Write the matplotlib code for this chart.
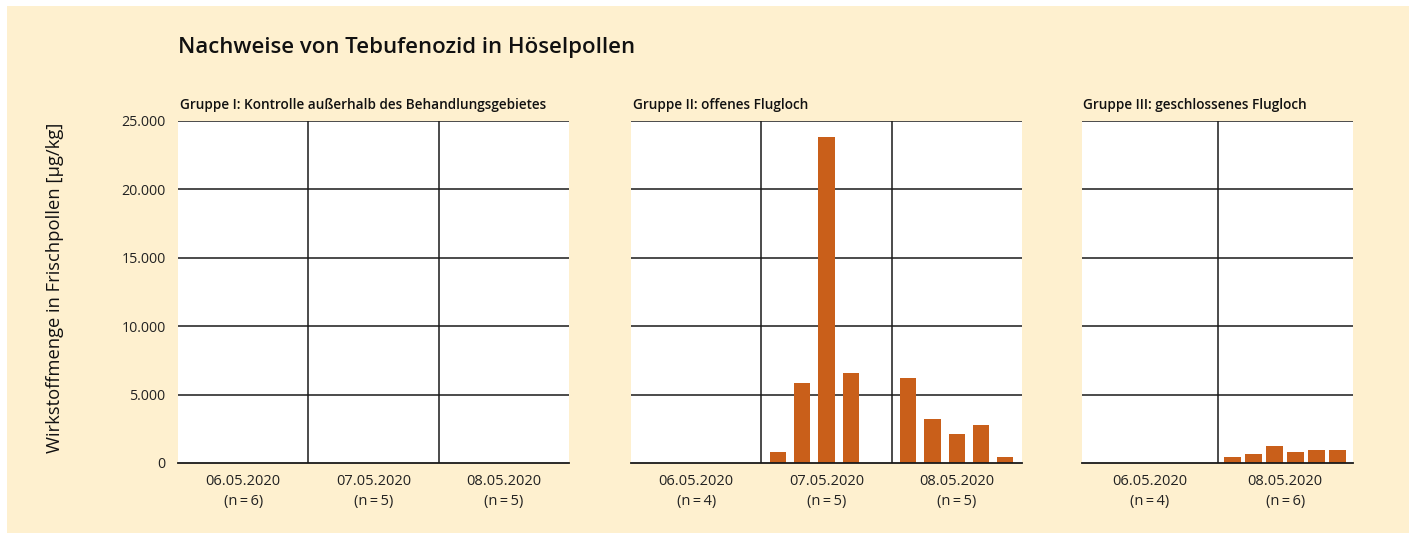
import matplotlib
matplotlib.use("Agg")
import matplotlib.pyplot as plt
from matplotlib.patches import Rectangle

plt.rcParams['font.family'] = ['Open Sans', 'DejaVu Sans']

# data (µg/kg), one list per sampling date, one value per sample
title = "Nachweise von Tebufenozid in Höselpollen"
ylabel = "Wirkstoffmenge in Frischpollen [µg/kg]"

g1_title = "Gruppe I: Kontrolle außerhalb des Behandlungsgebietes"
g1_dates = ["06.05.2020", "07.05.2020", "08.05.2020"]
g1_n = [6, 5, 5]
g1_values = [[0, 0, 0, 0, 0, 0], [0, 0, 0, 0, 0], [0, 0, 0, 0, 0]]

g2_title = "Gruppe II: offenes Flugloch"
g2_dates = ["06.05.2020", "07.05.2020", "08.05.2020"]
g2_n = [4, 5, 5]
g2_values = [[0, 0, 0, 0],
             [800, 5850, 23850, 6600, 0],
             [6250, 3200, 2150, 2800, 420]]

g3_title = "Gruppe III: geschlossenes Flugloch"
g3_dates = ["06.05.2020", "08.05.2020"]
g3_n = [4, 6]
g3_values = [[0, 0, 0, 0],
             [430, 650, 1230, 780, 930, 930]]

yticks = [0, 5000, 10000, 15000, 20000, 25000]

BG = "#FEF0CF"
BAR = "#C95F1A"
W, H = 1409, 533

fig = plt.figure(figsize=(W / 100, H / 100), dpi=100)
fig.patch.set_facecolor("white")
fig.add_artist(Rectangle((7 / W, 0), 1 - 7 / W, 1 - 6 / H, transform=fig.transFigure,
                         facecolor=BG, edgecolor="none", zorder=-10))


def px(x0, x1):
    return x0 / W, (x1 - x0) / W


bottom = 1 - 463 / H
height = 342 / H


def panel(x0, x1, name, dates, ns, values, show_y):
    left, width = px(x0, x1)
    ax = fig.add_axes([left, bottom, width, height])
    ax.set_facecolor("white")
    ng = len(dates)
    ax.set_xlim(0, ng)
    ax.set_ylim(0, 25000)
    for s in ["top", "left", "right"]:
        ax.spines[s].set_visible(False)
    ax.spines["bottom"].set_linewidth(1.3)
    ax.spines["bottom"].set_color("#1a1a1a")
    for y in yticks[1:]:
        ax.axhline(y, color="#1a1a1a", lw=1.1, zorder=1)
    for i in range(1, ng):
        ax.axvline(i, color="#1a1a1a", lw=1.1, zorder=1)
    margin = 0.035
    for i, vals in enumerate(values):
        slot = (1 - 2 * margin) / len(vals)
        xs = [i + margin + (j + 0.5) * slot for j in range(len(vals))]
        ax.bar(xs, vals, width=0.125, color=BAR, zorder=2)
    ax.set_xticks([i + 0.5 for i in range(ng)])
    ax.set_xticklabels([f"{d}\n(n\u2009=\u2009{n})" for d, n in zip(dates, ns)],
                       fontsize=10.5, color="#222222", linespacing=1.4)
    ax.tick_params(axis="x", length=0, pad=8)
    ax.set_yticks(yticks)
    if show_y:
        ax.set_yticklabels([f"{v:,}".replace(",", ".") for v in yticks],
                           fontsize=10.3, color="#222222")
        ax.tick_params(axis="y", length=0, pad=9)
    else:
        ax.set_yticklabels([])
        ax.tick_params(axis="y", length=0)
    ax.set_title(name, loc="left", fontsize=9.8, fontweight="semibold",
                 color="#111111", pad=9, x=0.005)
    return ax


panel(178, 569, g1_title, g1_dates, g1_n, g1_values, True)
panel(631, 1022, g2_title, g2_dates, g2_n, g2_values, False)
panel(1082, 1353, g3_title, g3_dates, g3_n, g3_values, False)

fig.text(178 / W, 1 - 48 / H, title, fontsize=15.9, fontweight="semibold",
         color="#111111", ha="left", va="center")
fig.text(55 / W, 1 - 288 / H, ylabel, fontsize=13.2, color="#111111",
         rotation=90, ha="center", va="center")

fig.savefig("out.png", dpi=100, facecolor=fig.get_facecolor())
